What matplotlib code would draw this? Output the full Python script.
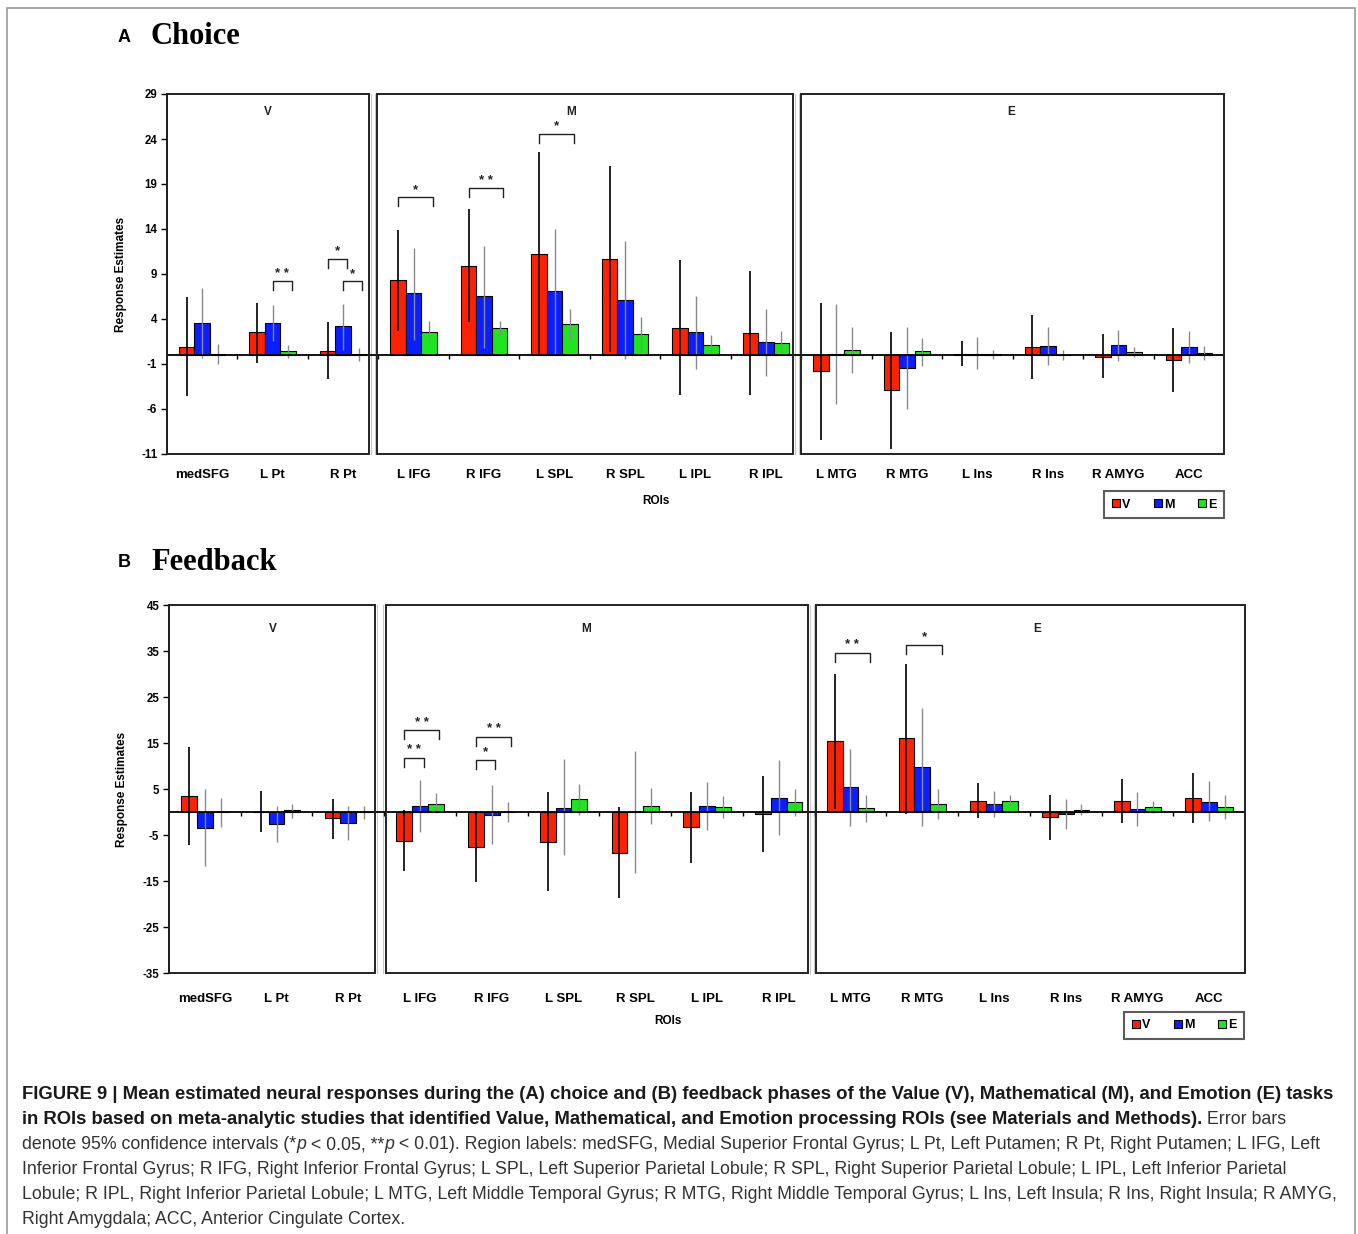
import matplotlib
matplotlib.use('Agg')
import matplotlib.pyplot as plt
import matplotlib.transforms as mtransforms
from matplotlib.patches import Rectangle
import numpy as np

# ---------------- data ----------------
rois = ['medSFG', 'L Pt', 'R Pt', 'L IFG', 'R IFG', 'L SPL', 'R SPL', 'L IPL', 'R IPL',
        'L MTG', 'R MTG', 'L Ins', 'R Ins', 'R AMYG', 'ACC']
series = ['V', 'M', 'E']
groups = ['V', 'M', 'E']

# Panel A (choice)
choice_V = [0.9, 2.5, 0.45, 8.3, 9.9, 11.2, 10.7, 3.0, 2.4, -1.8, -3.9, 0.1, 0.9, -0.2, -0.6]
choice_V_lo = [-4.6, -0.85, -2.7, 2.7, 3.7, 0.1, 0.3, -4.4, -4.5, -9.4, -10.4, -1.2, -2.7, -2.6, -4.1]
choice_V_hi = [6.4, 5.8, 3.7, 13.9, 16.2, 22.6, 21.0, 10.6, 9.3, 5.8, 2.6, 1.6, 4.4, 2.3, 3.0]
choice_M = [3.55, 3.6, 3.2, 6.85, 6.5, 7.1, 6.1, 2.5, 1.4, 0.1, -1.45, 0.1, 0.95, 1.1, 0.9]
choice_M_lo = [-0.3, 1.55, 0.6, 1.7, 0.8, 0.1, -0.5, -1.6, -2.3, -5.4, -6.0, -1.55, -1.1, -0.67, -0.9]
choice_M_hi = [7.4, 5.6, 5.7, 11.9, 12.1, 14.0, 12.7, 6.6, 5.1, 5.7, 3.1, 2.0, 3.1, 2.8, 2.7]
choice_E = [0.1, 0.4, 0.1, 2.6, 3.0, 3.4, 2.3, 1.1, 1.3, 0.55, 0.4, 0.1, 0.05, 0.3, 0.2]
choice_E_lo = [-1.0, -0.3, -0.7, 1.4, 2.1, 1.7, 0.3, 0.3, 0.1, -2.0, -1.2, -0.4, -0.6, -0.26, -0.6]
choice_E_hi = [1.26, 1.1, 0.74, 3.8, 3.8, 5.1, 4.2, 2.2, 2.7, 3.1, 1.9, 0.55, 0.55, 0.85, 1.0]

# Panel B (feedback)
fb_V = [3.5, 0.1, -1.4, -6.2, -7.7, -6.45, -8.85, -3.2, -0.4, 15.4, 16.0, 2.4, -1.1, 2.5, 3.05]
fb_V_lo = [-7.2, -4.3, -5.9, -12.8, -15.2, -17.2, -18.8, -11.0, -8.8, 0.7, -0.4, -1.3, -6.0, -2.3, -2.4]
fb_V_hi = [14.1, 4.6, 2.8, 0.4, 0.2, 4.3, 1.1, 4.4, 7.8, 30.1, 32.1, 6.2, 3.8, 7.25, 8.4]
fb_M = [-3.5, -2.5, -2.3, 1.2, -0.6, 0.9, 0.05, 1.4, 3.0, 5.4, 9.7, 1.7, -0.4, 0.65, 2.25]
fb_M_lo = [-11.7, -6.6, -6.1, -4.4, -7.0, -9.4, -13.2, -3.9, -5.0, -3.1, -3.1, -1.1, -3.6, -3.1, -2.0]
fb_M_hi = [4.9, 1.4, 1.4, 7.0, 5.9, 11.5, 13.3, 6.6, 11.2, 13.8, 22.6, 4.5, 2.75, 4.35, 6.7]
fb_E = [0.05, 0.35, 0.05, 1.8, -0.1, 2.75, 1.4, 1.15, 2.1, 0.95, 1.7, 2.5, 0.5, 1.15, 1.15]
fb_E_lo = [-3.2, -1.2, -1.5, -0.3, -2.2, -0.65, -2.5, -1.2, -0.8, -2.2, -1.45, 1.3, -0.7, -0.15, -1.6]
fb_E_hi = [3.0, 1.8, 1.4, 4.1, 2.1, 6.1, 5.3, 3.55, 5.0, 3.8, 4.9, 3.8, 1.8, 2.5, 3.8]

# significance brackets: (roi index, series i, series j, level, label)
choice_sig = [(1, 1, 2, 8.2, '* *'), (2, 0, 1, 10.7, '*'), (2, 1, 2, 8.2, '*'),
              (3, 0, 2, 17.5, '*'), (4, 0, 2, 18.5, '* *'), (5, 0, 2, 24.6, '*')]
fb_sig = [(3, 0, 1, 11.8, '* *'), (3, 0, 2, 17.8, '* *'), (4, 0, 1, 11.3, '*'),
          (4, 0, 2, 16.4, '* *'), (9, 0, 2, 34.6, '* *'), (10, 0, 2, 36.3, '*')]

choice_yticks = list(range(-11, 30, 5))
fb_yticks = list(range(-35, 46, 10))

# ---------------- style ----------------
colors = ['#FF2200', '#0A1EFF', '#1EE61E']
err_colors = ['#111111', '#8a8a8a', '#8a8a8a']
err_lw = [1.3, 1.0, 1.0]
SANS = ['Liberation Sans', 'DejaVu Sans']
plt.rcParams['font.family'] = SANS

W, H = 1358, 1234
fig = plt.figure(figsize=(W / 100, H / 100), dpi=100)


def fx(px):
    return px / W


def fy(py):
    return 1 - py / H


def draw_panel(ax, vals, los, his, sig, yticks, ylim, boxes, group_x, group_y,
               drop, label_pad):
    x = np.arange(len(rois))
    w = 0.22
    offs = [-w, 0.0, w]
    containers = []
    for k, s in enumerate(series):
        v = np.array(vals[k])
        c = ax.bar(x + offs[k], v, width=w, color=colors[k], edgecolor='black',
                   linewidth=0.8, zorder=3, label=s)
        containers.append(c)
        ax.vlines(x + offs[k], los[k], his[k], color=err_colors[k], lw=err_lw[k], zorder=4)
    ax.axhline(0, color='black', lw=1.3, zorder=5)
    ax.plot(np.arange(len(rois) - 1) + 0.5, np.zeros(len(rois) - 1), ls='none',
            marker=3, ms=3, mew=1.0, color='black', zorder=5)
    ax.set_xlim(-0.5, len(rois) - 0.5)
    ax.set_ylim(*ylim)
    ax.set_yticks(yticks)
    ax.set_yticklabels([str(t) for t in yticks], fontsize=8.3, fontweight='bold')
    ax.tick_params(axis='y', length=4, width=1.0, pad=3, direction='out')
    ax.set_xticks(x)
    ax.set_xticklabels(rois, fontsize=9.5, fontweight='bold')
    ax.tick_params(axis='x', length=0, pad=label_pad)
    for sp in ['top', 'right', 'bottom']:
        ax.spines[sp].set_visible(False)
    ax.spines['left'].set_linewidth(1.3)
    trans = mtransforms.blended_transform_factory(ax.transData, ax.transAxes)
    for (x0, x1), g, gx in zip(boxes, groups, group_x):
        ax.add_patch(Rectangle((x0, 0), x1 - x0, 1, transform=trans, fill=False,
                               lw=1.4, ec='#222222', clip_on=False, zorder=6))
        ax.text(gx, group_y, g, transform=trans, ha='center', va='center',
                fontsize=8.5, fontweight='bold', color='#222222')
    # faint lines in gaps between boxes
    for (a0, a1), (b0, b1) in zip(boxes[:-1], boxes[1:]):
        for gxl in (a1 + 0.03, b0 - 0.03):
            ax.plot([gxl, gxl], [0, 1], transform=trans, color='#c8c8c8', lw=0.8,
                    clip_on=False, zorder=1)
    # significance brackets
    for (ci, si, sj, lev, lab) in sig:
        xa = ci + offs[si]
        xb = ci + offs[sj] + 0.05
        ax.plot([xa, xa, xb, xb], [lev - drop, lev, lev, lev - drop], color='#222222',
                lw=1.0, zorder=6)
        ax.text((xa + xb) / 2, lev + drop * 0.15, lab, ha='center', va='bottom',
                fontsize=9.5, fontweight='bold', color='#222222')
    ax.set_ylabel('Response Estimates', fontsize=8.5, fontweight='bold')
    return containers


# ---------------- panel A ----------------
axA = fig.add_axes([fx(167), fy(454), (1224 - 167) / W, (454 - 94) / H])
contA = draw_panel(axA,
                   [choice_V, choice_M, choice_E],
                   [choice_V_lo, choice_M_lo, choice_E_lo],
                   [choice_V_hi, choice_M_hi, choice_E_hi],
                   choice_sig, choice_yticks, (-11, 29),
                   [(-0.5, 2.366), (2.48, 8.383), (8.5, 14.5)],
                   [0.93, 5.23, 11.48], 0.95, 1.0, 11)
axA.yaxis.set_label_coords((127 - 167) / 1057, 0.5)

# ---------------- panel B ----------------
axB = fig.add_axes([fx(169), fy(973), (1245 - 169) / W, (973 - 605) / H])
contB = draw_panel(axB,
                   [fb_V, fb_M, fb_E],
                   [fb_V_lo, fb_M_lo, fb_E_lo],
                   [fb_V_hi, fb_M_hi, fb_E_hi],
                   fb_sig, fb_yticks, (-35, 45),
                   [(-0.5, 2.37), (2.52, 8.41), (8.52, 14.5)],
                   [0.95, 5.32, 11.6], 0.935, 2.0, 14.5)
axB.yaxis.set_label_coords((128 - 169) / 1076, 0.5)

# legends
for cont, (rx, ty) in [(contA, (1224, 491)), (contB, (1244, 1012))]:
    leg = fig.legend(handles=cont, labels=series, loc='upper right',
                     bbox_to_anchor=(fx(rx), fy(ty)), ncol=3, frameon=True,
                     fancybox=False, handlelength=0.65, handleheight=0.65,
                     handletextpad=0.15, columnspacing=1.9, borderpad=0.6,
                     borderaxespad=0.0,
                     prop={'weight': 'bold', 'size': 9})
    leg.get_frame().set_edgecolor('#333333')
    leg.get_frame().set_linewidth(1.5)

# axis labels "ROIs"
fig.text(fx(656), fy(501), 'ROIs', ha='center', va='center', fontsize=8.5, fontweight='bold')
fig.text(fx(668), fy(1021), 'ROIs', ha='center', va='center', fontsize=8.5, fontweight='bold')

# panel titles
fig.text(fx(124), fy(37), 'A', ha='center', va='center', fontsize=13, fontweight='bold')
fig.text(fx(150), fy(37), 'Choice', ha='left', va='center', fontsize=22, fontweight='bold',
         family=['Liberation Serif', 'DejaVu Serif'])
fig.text(fx(124), fy(562), 'B', ha='center', va='center', fontsize=13, fontweight='bold')
fig.text(fx(151), fy(562), 'Feedback', ha='left', va='center', fontsize=22, fontweight='bold',
         family=['Liberation Serif', 'DejaVu Serif'])

# outer frame
fig.add_artist(Rectangle((fx(7), fy(1240)), (1355 - 7) / W, (1240 - 8) / H,
                         transform=fig.transFigure, fill=False, ec='#9a9a9a', lw=1.2,
                         clip_on=False))

# ---------------- caption ----------------
cap_ax = fig.add_axes([0, 0, 1, 1])
cap_ax.axis('off')
cap_ax.set_zorder(-1)

B_COL = '#1a1a1a'
R_COL = '#333333'
cap_lines = [
    [("FIGURE 9 | Mean estimated neural responses during the (A) choice and (B) feedback phases of the Value (V), Mathematical (M), and Emotion (E) tasks", 'bold', 'normal')],
    [("in ROIs based on meta-analytic studies that identified Value, Mathematical, and Emotion processing ROIs (see Materials and Methods).", 'bold', 'normal'),
     (" Error bars", 'normal', 'normal')],
    [("denote 95% confidence intervals (*", 'normal', 'normal'), ("p", 'normal', 'italic'),
     (" < 0.05, **", 'normal', 'normal'), ("p", 'normal', 'italic'),
     (" < 0.01). Region labels: medSFG, Medial Superior Frontal Gyrus; L Pt, Left Putamen; R Pt, Right Putamen; L IFG, Left", 'normal', 'normal')],
    [("Inferior Frontal Gyrus; R IFG, Right Inferior Frontal Gyrus; L SPL, Left Superior Parietal Lobule; R SPL, Right Superior Parietal Lobule; L IPL, Left Inferior Parietal", 'normal', 'normal')],
    [("Lobule; R IPL, Right Inferior Parietal Lobule; L MTG, Left Middle Temporal Gyrus; R MTG, Right Middle Temporal Gyrus; L Ins, Left Insula; R Ins, Right Insula; R AMYG,", 'normal', 'normal')],
    [("Right Amygdala; ACC, Anterior Cingulate Cortex.", 'normal', 'normal')],
]
cap_y = [1103, 1128, 1153, 1178, 1203, 1228]

renderer = fig.canvas.get_renderer()


def fit_size(txt, weight, target):
    t = fig.text(0, 0, txt, fontsize=10, fontweight=weight)
    wd = t.get_window_extent(renderer).width
    t.remove()
    return 10 * target / wd


size_b = fit_size(cap_lines[0][0][0], 'bold', 1318)
size_r = min(fit_size(''.join(s[0] for s in cap_lines[2]), 'normal', 1318),
             fit_size(cap_lines[4][0][0], 'normal', 1320))

for segs, yb in zip(cap_lines, cap_y):
    prev = None
    for txt, wt, st in segs:
        sz = size_b if wt == 'bold' else size_r
        col = B_COL if wt == 'bold' else R_COL
        if prev is None:
            t = cap_ax.annotate(txt, xy=(fx(22), fy(yb)), xycoords='figure fraction',
                                ha='left', va='bottom', fontsize=sz, fontweight=wt,
                                fontstyle=st, color=col)
        else:
            t = cap_ax.annotate(txt, xy=(1, 0), xycoords=prev, ha='left', va='bottom',
                                fontsize=sz, fontweight=wt, fontstyle=st, color=col)
        prev = t

fig.savefig('out.png', dpi=100)
